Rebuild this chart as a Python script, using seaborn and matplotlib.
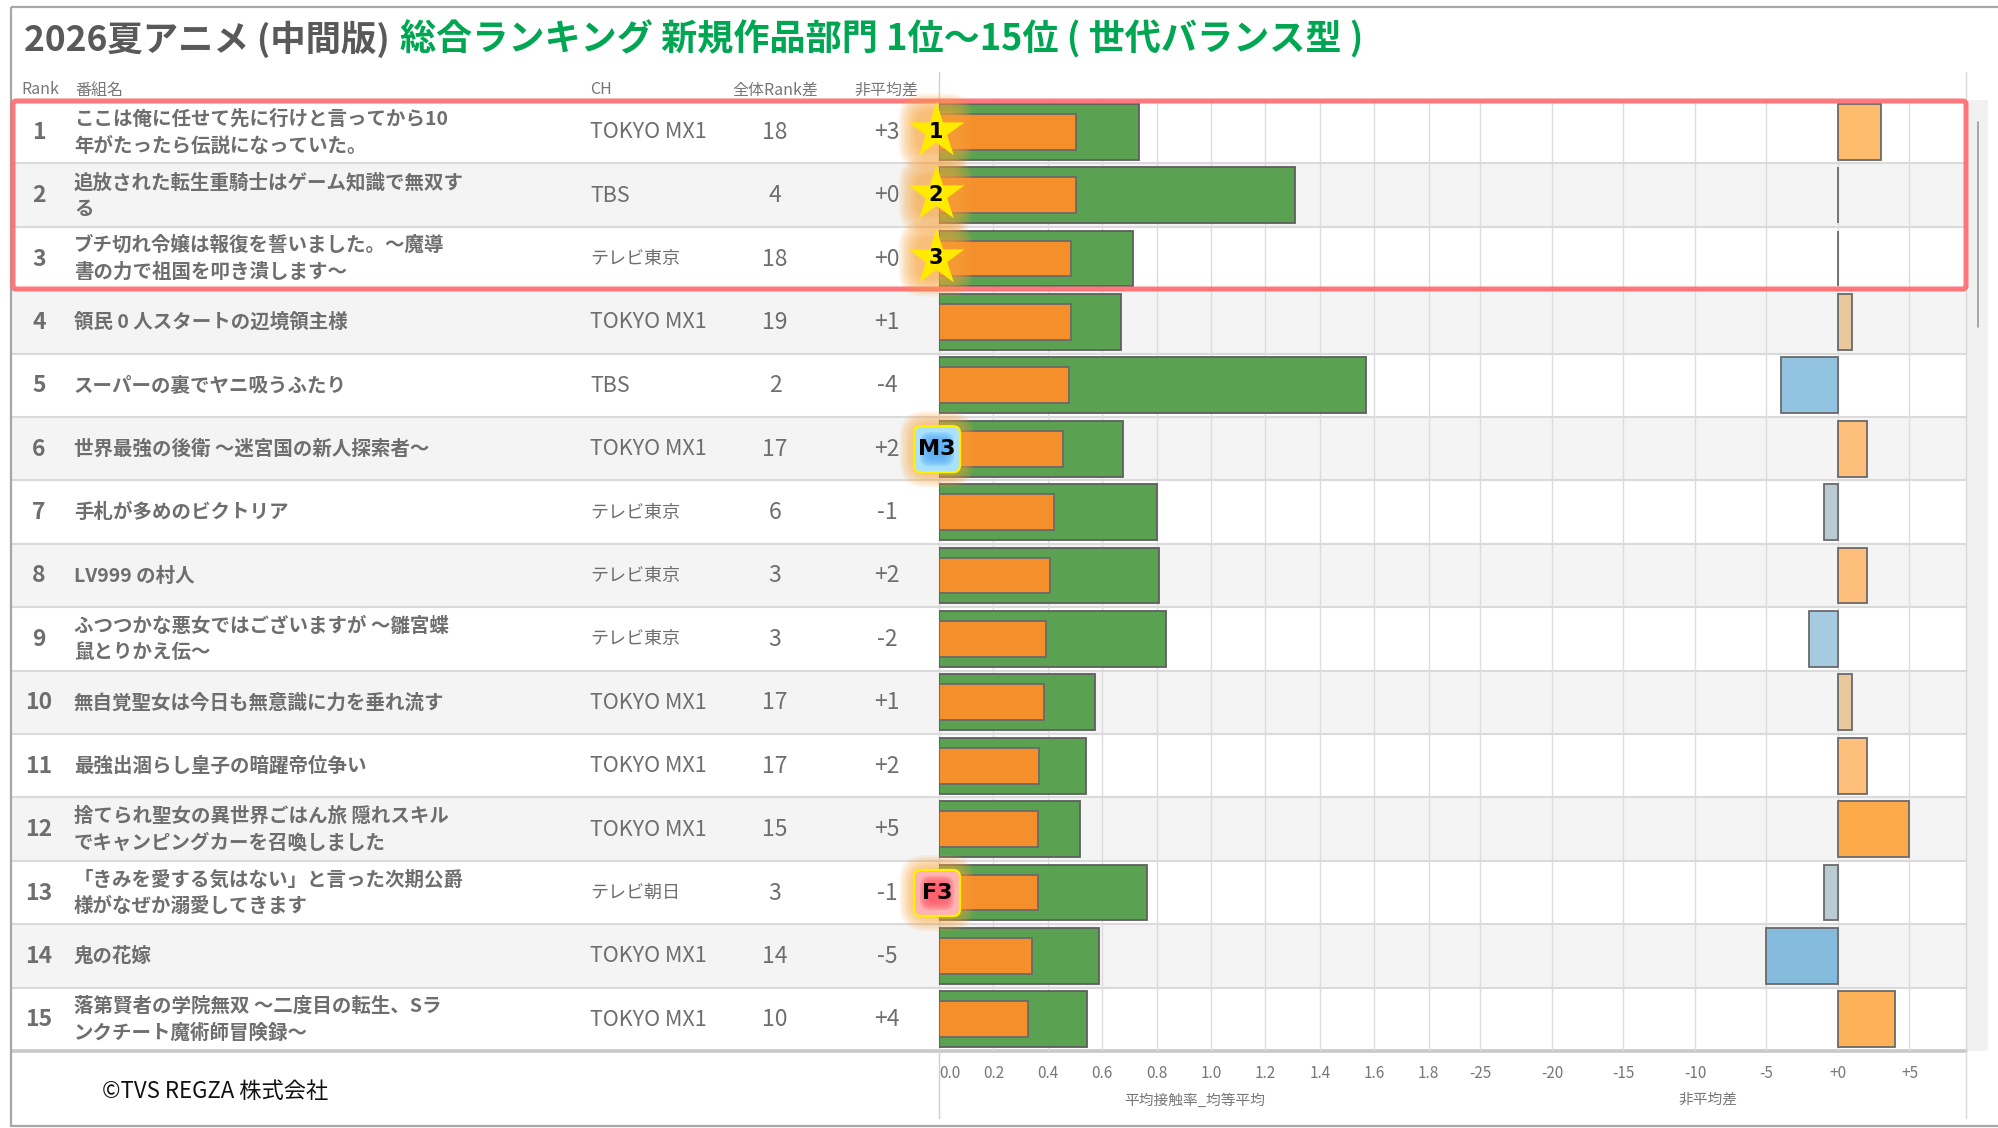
import matplotlib
matplotlib.use("Agg")
import matplotlib.pyplot as plt
from matplotlib.patches import Rectangle, FancyBboxPatch
import pandas as pd
import seaborn as sns

ranks = [str(i) for i in range(1, 16)]
titles = [
    "ここは俺に任せて先に行けと言ってから10\n年がたったら伝説になっていた。",
    "追放された転生重騎士はゲーム知識で無双す\nる",
    "ブチ切れ令嬢は報復を誓いました。～魔導\n書の力で祖国を叩き潰します～",
    "領民 0 人スタートの辺境領主様",
    "スーパーの裏でヤニ吸うふたり",
    "世界最強の後衛 ～迷宮国の新人探索者～",
    "手札が多めのビクトリア",
    "LV999 の村人",
    "ふつつかな悪女ではございますが ～雛宮蝶\n鼠とりかえ伝～",
    "無自覚聖女は今日も無意識に力を垂れ流す",
    "最強出涸らし皇子の暗躍帝位争い",
    "捨てられ聖女の異世界ごはん旅 隠れスキル\nでキャンピングカーを召喚しました",
    "「きみを愛する気はない」と言った次期公爵\n様がなぜか溺愛してきます",
    "鬼の花嫁",
    "落第賢者の学院無双 ～二度目の転生、Sラ\nンクチート魔術師冒険録～",
]
channels = ["TOKYO MX1", "TBS", "テレビ東京", "TOKYO MX1", "TBS", "TOKYO MX1", "テレビ東京", "テレビ東京",
            "テレビ東京", "TOKYO MX1", "TOKYO MX1", "TOKYO MX1", "テレビ朝日", "TOKYO MX1", "TOKYO MX1"]
rank_diff = [18, 4, 18, 19, 2, 17, 6, 3, 3, 17, 17, 15, 3, 14, 10]
contact_total = [0.737, 1.309, 0.713, 0.669, 1.570, 0.677, 0.800, 0.810, 0.834, 0.575, 0.540, 0.520, 0.766, 0.590, 0.544]
contact_target = [0.503, 0.503, 0.486, 0.486, 0.477, 0.457, 0.423, 0.408, 0.393, 0.387, 0.368, 0.364, 0.364, 0.342, 0.328]
nonavg_diff = [3, 0, 0, 1, -4, 2, -1, 2, -2, 1, 2, 5, -1, -5, 4]
diff_colors = ["#FDBB6C", "#555555", "#555555", "#E8C89C", "#92C4E1", "#FDBF7A", "#B9CCD2", "#FDBF7A",
               "#A6CBE0", "#E8C89C", "#FDBF7A", "#FCAA4A", "#B9CCD2", "#85BBDD", "#FDB25A"]
contact_ticks = [0.0, 0.2, 0.4, 0.6, 0.8, 1.0, 1.2, 1.4, 1.6, 1.8]
diff_ticks = [-25, -20, -15, -10, -5, 0, 5]
diff_tick_labels = ["-25", "-20", "-15", "-10", "-5", "+0", "+5"]
badges = {0: "1", 1: "2", 2: "3"}
demo_badges = {5: ("M3", "#A9E1FF", "#58ACF2"), 12: ("F3", "#FFB3B3", "#FF5766")}

W, H = 1999, 1128
TOP, ROW = 100.0, 63.4
BOTTOM = TOP + 15 * ROW
X0, XMID, XEND = 939, 1465, 1966
DIFF_ZERO = 1838
GREY = "#6E6E6E"

sns.set_theme(style="white")
plt.rcParams["font.family"] = ["Noto Sans CJK JP", "DejaVu Sans"]

df = pd.DataFrame({"rank": ranks, "total": contact_total, "target": contact_target, "diff": nonavg_diff})

fig = plt.figure(figsize=(W / 100, H / 100), dpi=100, facecolor="white")


def px_axes(x0, x1, y0, y1, z):
    ax = fig.add_axes([x0 / W, 1 - y1 / H, (x1 - x0) / W, (y1 - y0) / H], zorder=z)
    ax.patch.set_visible(False)
    return ax


bg = px_axes(0, W, 0, H, 0)
bg.set_xlim(0, W)
bg.set_ylim(H, 0)
bg.axis("off")
over = px_axes(0, W, 0, H, 3)
over.set_xlim(0, W)
over.set_ylim(H, 0)
over.axis("off")

# stripes, separators, frame
for i in range(15):
    if i % 2 == 1:
        bg.add_patch(Rectangle((12, TOP + i * ROW), XEND - 12, ROW, fc="#F4F4F4", ec="none", zorder=0))
    y = TOP + (i + 1) * ROW
    bg.plot([12, XEND], [y, y], color="#C8C8C8" if i == 14 else "#DADADA", lw=2.6 if i == 14 else 1.5, zorder=0.5)
bg.add_patch(Rectangle((XEND, TOP), 22, BOTTOM - TOP, fc="#F1F1F1", ec="none", zorder=0))
bg.plot([1978.5, 1978.5], [122, 327], color="#9A9A9A", lw=1.2)
bg.plot([X0, X0], [72, 1118], color="#D0D0D0", lw=1)
bg.plot([XEND, XEND], [72, 1118], color="#D8D8D8", lw=1)
bg.add_patch(Rectangle((11, 7), W + 5, 1119, fc="none", ec="#A6A6A6", lw=1.6))

# title
bg.text(24, 39, "2026夏アニメ (中間版)", color="#595959", fontsize=25.5, fontweight="bold", va="center", ha="left")
bg.text(400, 39, "総合ランキング 新規作品部門 1位～15位 ( 世代バランス型 )", color="#00A651", fontsize=26,
        fontweight="bold", va="center", ha="left")

# header
for x, s, ha in [(21, "Rank", "left"), (75, "番組名", "left"), (590, "CH", "left"), (775, "全体Rank差", "center"),
                 (886, "非平均差", "center")]:
    bg.text(x, 90, s, color="#777777", fontsize=11.5, va="center", ha=ha)

# table body
for i in range(15):
    yc = TOP + (i + 0.5) * ROW + 0.5
    bg.text(39, yc, ranks[i], color=GREY, fontsize=16.5, fontweight="bold", ha="center", va="center")
    bg.text(74, yc, titles[i], color=GREY, fontsize=14, fontweight="bold", ha="left", va="center", linespacing=1.5)
    bg.text(590, yc, channels[i], color=GREY, fontsize=15.5 if channels[i].isascii() else 13, ha="left", va="center")
    bg.text(775, yc, str(rank_diff[i]), color=GREY, fontsize=16.5, ha="center", va="center")
    bg.text(887, yc, f"{nonavg_diff[i]:+d}", color=GREY, fontsize=16.5, ha="center", va="center")

bg.text(102, 1092, "©TVS REGZA 株式会社", color="#111111", fontsize=16, ha="left", va="center")

# contact-rate bars
ax1 = px_axes(X0, XMID, TOP, BOTTOM, 1)
sns.barplot(data=df, y="rank", x="total", order=ranks, color="#5AA151", saturation=1, width=0.883,
            edgecolor="#5F5F5F", linewidth=1.3, ax=ax1, zorder=2)
sns.barplot(data=df, y="rank", x="target", order=ranks, color="#F58F2C", saturation=1, width=0.565,
            edgecolor="#6A6A6A", linewidth=1.3, ax=ax1, zorder=3)
ax1.set_xlim(0, (XMID - X0) / 272)
ax1.set_xticks(contact_ticks)
ax1.set_xticklabels([f"{t:.1f}" for t in contact_ticks])
ax1.get_xticklabels()[0].set_ha("left")
ax1.set_xlabel("平均接触率_均等平均", fontsize=10.6, color="#777777")
ax1.xaxis.set_label_coords(0.487, -0.0442)

# non-average bars
ax2 = px_axes(XMID, XEND, TOP, BOTTOM, 1)
sns.barplot(data=df, y="rank", x="diff", order=ranks, hue="rank", hue_order=ranks, palette=diff_colors,
            saturation=1, width=0.883, edgecolor="#6A6A6A", linewidth=1.3, legend=False, ax=ax2, zorder=2)
ax2.set_xlim((XMID - DIFF_ZERO) / 14.3, (XEND - DIFF_ZERO) / 14.3)
ax2.set_xticks(diff_ticks)
ax2.set_xticklabels(diff_tick_labels)
ax2.set_xlabel("非平均差", fontsize=10.6, color="#777777")
ax2.xaxis.set_label_coords(0.485, -0.0442)

for ax in (ax1, ax2):
    ax.set_ylabel("")
    ax.set_yticks([])
    ax.set_ylim(14.5, -0.5)
    ax.grid(axis="x", color="#DCDCDC", lw=1)
    ax.set_axisbelow(True)
    ax.tick_params(axis="x", length=0, pad=10, labelsize=11, labelcolor="#777777")
    for s in ax.spines.values():
        s.set_visible(False)

# highlight box
over.add_patch(FancyBboxPatch((13, 101), XEND - 13, 188, boxstyle="round,pad=0,rounding_size=3",
                              fc="none", ec="#FF6C72", lw=3.6, alpha=0.92, zorder=2))


def glow(xc, yc, half):
    for k in range(8):
        h = half + 13 - k * 2.4
        over.add_patch(FancyBboxPatch((xc - h, yc - h - 1), 2 * h, 2 * h + 2, boxstyle=f"round,pad=0,rounding_size={h * 0.7:.1f}",
                                      fc="#F9A23A", ec="none", alpha=0.13, zorder=3))


for i, label in badges.items():
    yc = TOP + (i + 0.5) * ROW
    glow(936, yc, 24)
    over.scatter([936], [yc - 1], marker="*", s=1800, c="#FFEA00", linewidths=0, zorder=5)
    over.text(936, yc, label, color="black", fontsize=15, fontweight="bold", family="DejaVu Sans",
              ha="center", va="center", zorder=6)

for i, (label, outer, inner) in demo_badges.items():
    yc = TOP + (i + 0.5) * ROW + 0.5
    glow(937, yc, 24)
    over.add_patch(FancyBboxPatch((937 - 23, yc - 23), 46, 46, boxstyle="round,pad=0,rounding_size=7",
                                  fc=outer, ec="#FFF200", lw=1.6, zorder=5))
    for k in range(6):
        h = 17 - k * 2
        over.add_patch(FancyBboxPatch((937 - h, yc - h), 2 * h, 2 * h, boxstyle=f"round,pad=0,rounding_size={h * 0.6:.1f}",
                                      fc=inner, ec="none", alpha=0.3, zorder=5.5))
    over.text(937, yc, label, color="black", fontsize=16, fontweight="bold", family="DejaVu Sans",
              ha="center", va="center", zorder=6)

fig.savefig("out.png", dpi=100, facecolor="white")
